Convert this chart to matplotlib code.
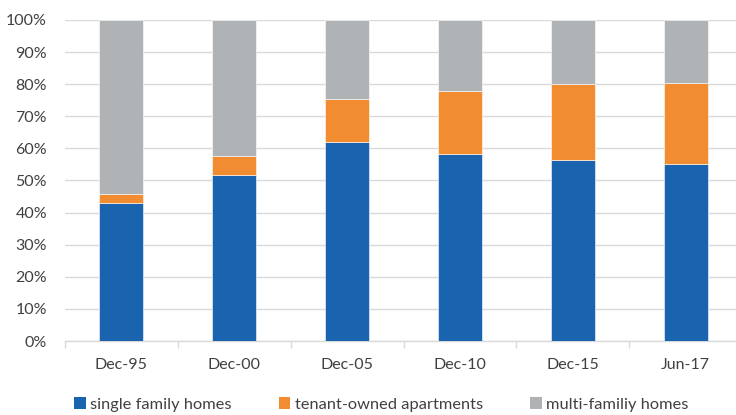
import numpy as np
import matplotlib
matplotlib.use("Agg")
import matplotlib.pyplot as plt
from matplotlib.patches import Patch
from matplotlib.ticker import FixedLocator, PercentFormatter

plt.rcParams['font.family'] = ['Lato', 'DejaVu Sans']

categories = ["Dec-95", "Dec-00", "Dec-05", "Dec-10", "Dec-15", "Jun-17"]
single_family = [43.1, 51.8, 61.9, 58.2, 56.4, 55.2]
tenant_owned = [2.8, 5.9, 13.6, 19.8, 23.7, 25.2]
multi_family = [100 - a - b for a, b in zip(single_family, tenant_owned)]
series_names = ["single family homes", "tenant-owned apartments", "multi-familiy homes"]
colors = ["#1A63AE", "#F28C30", "#B0B3B5"]
text_color = "#404040"

fig = plt.figure(figsize=(7.36, 4.15), dpi=100)
ax = fig.add_axes([65 / 736, 1 - 341 / 415, 677 / 736, 321 / 415])

x = np.arange(len(categories))
bottom = np.zeros(len(categories))
for vals, col in zip([single_family, tenant_owned, multi_family], colors):
    ax.bar(x, vals, width=0.39, bottom=bottom, color=col, edgecolor="white",
           linewidth=0.4, zorder=3)
    bottom += np.array(vals)

ax.set_xlim(-0.5, len(categories) - 0.5)
ax.set_ylim(0, 100)
ax.set_yticks(np.arange(0, 101, 10))
ax.yaxis.set_major_formatter(PercentFormatter(decimals=0))
ax.grid(axis='y', color="#D9D9D9", linewidth=1, zorder=0)

# boundary ticks on the category axis, labels in the middle
ax.xaxis.set_major_locator(FixedLocator(np.arange(-0.5, len(categories), 1)))
ax.xaxis.set_minor_locator(FixedLocator(x))
ax.set_xticklabels([])
ax.set_xticklabels(categories, minor=True)
ax.tick_params(axis='x', which='major', length=5, color="#D9D9D9", width=1)
ax.tick_params(axis='x', which='minor', length=0, pad=12, labelsize=11.5, labelcolor=text_color)
ax.tick_params(axis='y', length=0, pad=13, labelsize=11.5, labelcolor=text_color)

for side in ["top", "right", "left"]:
    ax.spines[side].set_visible(False)
ax.spines["bottom"].set_color("#D9D9D9")
ax.spines["bottom"].set_linewidth(1)

handles = [Patch(facecolor=c, edgecolor="none") for c in colors]
fig.legend(handles, series_names, loc="center", bbox_to_anchor=(0.518, 0.026), ncol=3,
           frameon=False, fontsize=11.8, handlelength=0.7, handleheight=0.8,
           handletextpad=0.25, columnspacing=2.9, labelcolor=text_color)

fig.savefig("out.png", dpi=100)
